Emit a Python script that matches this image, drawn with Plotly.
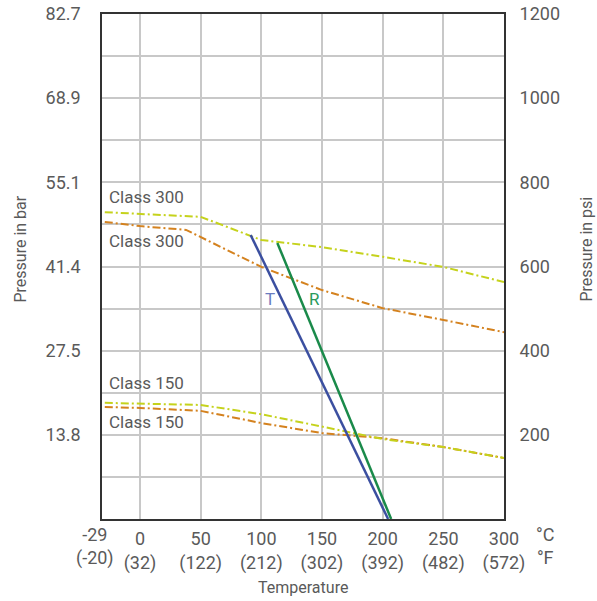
import plotly.graph_objects as go

# ---- data (temperature in °C, pressure in psi) ----
c300_hi_x = [-29, 50, 100, 150, 200, 250, 300]
c300_hi_y = [729, 718, 663, 646, 623, 599, 563]

c300_lo_x = [-29, 0, 38, 50, 100, 150, 200, 250, 300]
c300_lo_y = [706, 696, 687, 670, 599, 544, 501, 473, 444]

c150_hi_x = [-29, 50, 100, 150, 200, 250, 300]
c150_hi_y = [276, 271, 249, 219, 190, 171, 145]

c150_lo_x = [-29, 0, 50, 100, 150, 200, 250, 300]
c150_lo_y = [266, 264, 257, 228, 204, 192, 171, 145]

t_x = [91.2, 204.5]
t_y = [675, 0]
r_x = [113.2, 207.0]
r_y = [656, 0]

x_ticks = [0, 50, 100, 150, 200, 250, 300]
x_ticktext = ["0<br>(32)", "50<br>(122)", "100<br>(212)", "150<br>(302)",
              "200<br>(392)", "250<br>(482)", "300<br>(572)"]
first_tick = -29
first_ticktext = "-29<br>(-20)"

y_grid = [100, 200, 300, 400, 500, 600, 700, 800, 900, 1000, 1100, 1200]
bar_text = ["", "13.8", "", "27.5", "", "41.4", "", "55.1", "", "68.9", "", "82.7"]
psi_text = ["", "200", "", "400", "", "600", "", "800", "", "1000", "", "1200"]

YELLOW = "#c5d21c"
ORANGE = "#d4821f"
BLUE = "#3b4fa0"
GREEN = "#1a8a4a"
TXT = "#5a5a5a"
FONT = "Roboto"
DASH = "8px,3px,2px,3px"

fig = go.Figure()
fig.add_trace(go.Scatter(x=c300_hi_x, y=c300_hi_y, mode="lines",
                         line=dict(color=YELLOW, width=2, dash=DASH)))
fig.add_trace(go.Scatter(x=c300_lo_x, y=c300_lo_y, mode="lines",
                         line=dict(color=ORANGE, width=2, dash=DASH)))
fig.add_trace(go.Scatter(x=c150_lo_x, y=c150_lo_y, mode="lines",
                         line=dict(color=ORANGE, width=2, dash=DASH)))
fig.add_trace(go.Scatter(x=c150_hi_x, y=c150_hi_y, mode="lines",
                         line=dict(color=YELLOW, width=2, dash=DASH)))
fig.add_trace(go.Scatter(x=t_x, y=t_y, mode="lines", line=dict(color=BLUE, width=2.5)))
fig.add_trace(go.Scatter(x=r_x, y=r_y, mode="lines", line=dict(color=GREEN, width=2.5)))
# invisible trace on secondary axis
fig.add_trace(go.Scatter(x=[0], y=[0], yaxis="y2", mode="markers",
                         marker=dict(opacity=0), hoverinfo="skip"))

ann = []
def txt(x, y, s, color=TXT, size=17, xanchor="left"):
    ann.append(dict(x=x, y=y, xref="x", yref="y", text=s, showarrow=False,
                    font=dict(family=FONT, size=size, color=color),
                    xanchor=xanchor, yanchor="middle"))

txt(-27, 766, "Class 300")
txt(-27, 660, "Class 300")
txt(-27, 322, "Class 150")
txt(-27, 231, "Class 150")
txt(107, 523, "T", color="#6a7cc0", size=17, xanchor="center")
txt(143.5, 523, "R", color="#2a9a5c", size=17, xanchor="center")

ann.append(dict(x=first_tick, y=0, xref="x", yref="y", text=first_ticktext,
                showarrow=False, xanchor="center", yanchor="top", xshift=-10, yshift=-3,
                font=dict(family=FONT, size=18, color=TXT)))
ann.append(dict(x=1, y=0, xref="paper", yref="y", text="°C<br>°F",
                showarrow=False, xanchor="center", yanchor="top", xshift=41, yshift=-3,
                font=dict(family=FONT, size=18, color=TXT)))
ann.append(dict(x=0.5, y=0, xref="paper", yref="paper", text="Temperature",
                showarrow=False, xanchor="center", yanchor="middle", yshift=-68,
                font=dict(family=FONT, size=16, color=TXT)))
ann.append(dict(x=0, y=0.5, xref="paper", yref="paper", text="Pressure in bar",
                showarrow=False, textangle=-90, xanchor="center", yanchor="middle",
                xshift=-82, yshift=17,
                font=dict(family=FONT, size=16, color=TXT)))
ann.append(dict(x=1, y=0.5, xref="paper", yref="paper", text="Pressure in psi",
                showarrow=False, textangle=-90, xanchor="center", yanchor="middle",
                xshift=82, yshift=17,
                font=dict(family=FONT, size=16, color=TXT)))

fig.update_layout(
    width=597, height=601,
    margin=dict(l=102, r=93, t=14, b=82, autoexpand=False),
    paper_bgcolor="white", plot_bgcolor="white",
    showlegend=False,
    font=dict(family=FONT, size=18, color=TXT),
    annotations=ann,
    xaxis=dict(range=[-31.3, 300], tickvals=x_ticks, ticktext=x_ticktext,
               automargin=False,
               showgrid=True, gridcolor="#c8c8c8", gridwidth=1.5,
               showline=True, linecolor="#333333", linewidth=1.5, mirror=True,
               ticks="outside", ticklen=3, tickcolor="rgba(0,0,0,0)",
               zeroline=False, tickfont=dict(family=FONT, size=18, color=TXT)),
    yaxis=dict(range=[0, 1200], tickvals=y_grid, ticktext=bar_text,
               automargin=False,
               showgrid=True, gridcolor="#c8c8c8", gridwidth=1.5,
               showline=True, linecolor="#333333", linewidth=1.5, mirror=True,
               ticks="outside", ticklen=16, tickcolor="rgba(0,0,0,0)",
               zeroline=False, tickfont=dict(family=FONT, size=18, color=TXT)),
    yaxis2=dict(range=[0, 1200], overlaying="y", side="right",
                automargin=False,
                tickvals=y_grid, ticktext=psi_text, showgrid=False,
                ticks="outside", ticklen=11, tickcolor="rgba(0,0,0,0)",
                zeroline=False, showline=False,
                tickfont=dict(family=FONT, size=18, color=TXT)),
)

fig.write_html("out.html", config={"displayModeBar": False},
               post_script="document.body.style.margin='0';document.body.style.overflow='hidden';")
